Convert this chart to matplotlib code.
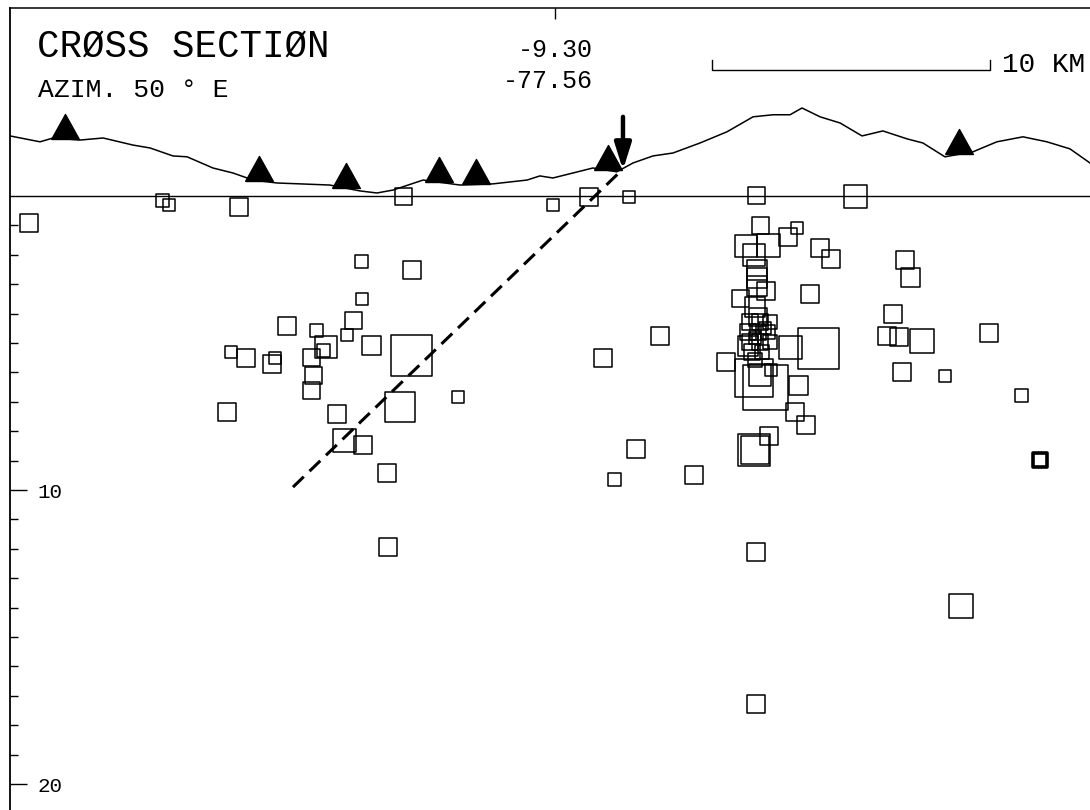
import numpy as np
import matplotlib
matplotlib.use("Agg")
import matplotlib.pyplot as plt
from matplotlib.ticker import FixedLocator

# topography along the section (distance km, elevation km)
topo_x = [0.00, 1.08, 1.55, 2.52, 3.35, 4.42, 5.04, 5.86, 6.37, 7.30, 8.02, 8.74,
          9.60, 10.43, 11.51, 12.59, 13.20, 13.78, 14.86, 16.19, 17.37, 18.60,
          19.06, 19.53, 20.25, 20.97, 21.83, 22.41, 23.13, 23.85, 24.82, 25.79,
          26.73, 27.45, 28.06, 28.49, 29.14, 29.86, 30.65, 31.40, 32.27, 32.84,
          33.63, 34.64, 35.50, 36.44, 37.30, 38.13, 38.85]
topo_elev = [2.04, 1.84, 1.97, 1.90, 1.97, 1.73, 1.63, 1.36, 1.33, 0.95, 0.78, 0.54,
             0.44, 0.41, 0.37, 0.17, 0.10, 0.20, 0.54, 0.37, 0.41, 0.54,
             0.68, 0.61, 0.78, 0.95, 0.82, 1.12, 1.36, 1.46, 1.80, 2.18,
             2.69, 2.76, 2.76, 2.99, 2.69, 2.48, 2.04, 2.21, 1.94, 1.80,
             1.33, 1.50, 1.84, 2.01, 1.84, 1.60, 1.12]

# seismic stations (distance km)
station_x = [1.98, 8.96, 12.09, 15.43, 16.76, 21.51, 34.14]

# hypocenters: distance (km), depth (km), box side (pt)
eq_x = [0.68, 5.50, 5.72, 8.24, 14.17, 19.53, 20.83, 22.27, 26.87, 30.43,
        12.63, 14.46, 12.66, 9.96, 11.01, 12.34, 12.12, 11.37, 11.29, 13.02,
        7.95, 8.49, 9.42, 9.53, 10.83, 10.90, 10.86, 14.46, 14.03, 16.12,
        7.81, 11.76, 12.05, 12.70, 13.56, 13.60, 21.33, 23.38, 22.52, 21.73,
        24.60, 34.21, 36.37, 35.22, 33.63, 32.09, 32.81, 31.98, 31.55, 31.76,
        32.19, 32.41, 28.78, 29.14, 29.53, 28.31, 27.99, 29.10, 28.06, 28.35,
        28.24, 28.63, 26.98, 26.47, 26.76, 27.30, 26.87, 26.87, 26.87, 26.29,
        27.19, 26.80, 25.76, 26.76, 27.16, 26.98, 27.37, 27.30, 26.76, 26.80,
        26.83, 26.83, 26.62, 26.98, 27.34, 26.55, 26.91, 27.27, 26.62, 26.98,
        27.34, 26.69, 27.05, 26.80, 27.16, 26.80, 26.91, 26.55]
eq_z = [0.92, 0.14, 0.31, 0.37, 0.03, 0.31, 0.03, 0.03, -0.03, 0.03,
        2.24, 2.52, 3.50, 4.42, 4.56, 4.22, 4.73, 5.14, 5.24, 5.07,
        5.31, 5.51, 5.71, 5.51, 5.51, 6.09, 6.60, 5.41, 7.18, 6.84,
        7.35, 7.41, 8.33, 8.47, 9.42, 11.94, 5.51, 4.76, 8.61, 9.63,
        9.49, 13.95, 6.80, 4.66, 6.12, 5.99, 4.93, 4.80, 4.76, 4.01,
        2.18, 2.76, 3.33, 1.77, 2.14, 1.09, 1.39, 5.20, 5.14, 6.46,
        7.35, 7.79, 0.99, 1.70, 2.01, 1.67, 2.52, 2.79, 3.06, 3.50,
        3.23, 3.78, 5.65, 6.19, 6.50, 6.09, 5.92, 8.16, 8.64, 8.64,
        12.11, 17.28, 4.29, 4.29, 4.29, 4.63, 4.63, 4.63, 4.97, 4.97,
        4.97, 5.31, 5.31, 5.58, 4.49, 4.83, 4.12, 5.10]
eq_box = [18, 13, 12, 18, 17, 12, 18, 12, 17, 23,
          13, 18, 12, 18, 13, 17, 12, 22, 13, 19,
          12, 18, 18, 12, 17, 17, 17, 41, 30, 12,
          18, 18, 23, 18, 18, 18, 18, 18, 18, 13,
          18, 24, 13, 18, 12, 18, 24, 18, 18, 18,
          18, 19, 18, 18, 18, 12, 18, 41, 23, 19,
          18, 18, 17, 22, 22, 23, 20, 20, 20, 17,
          18, 20, 18, 38, 45, 22, 12, 18, 32, 28,
          18, 18, 16, 16, 14, 16, 16, 14, 16, 16,
          14, 16, 14, 14, 12, 12, 18, 20]

# the one event drawn with a heavy pen
bold_x = [37.05]
bold_z = [8.98]
bold_box = [14]

# inferred fault trace (dashed) and arrow on the surface
fault_x = [10.18, 22.01]
fault_z = [9.90, -0.88]
arrow_x = 22.05
arrow_top, arrow_tip = -2.69, -0.88

# 10 km scale bar
bar_x = [25.25, 35.25]
bar_z = -4.29

W, H = 1090, 810
fig = plt.figure(figsize=(W / 100, H / 100), dpi=100)
ax = fig.add_axes([10 / W, 0.0, 1 - 10 / W, 1 - 8 / H])
ax.set_xlim(0, 38.85)
ax.set_ylim(20.88, -6.39)

for s in ("right", "bottom"):
    ax.spines[s].set_visible(False)
ax.spines["left"].set_linewidth(1.3)
ax.spines["top"].set_linewidth(1.1)

# depth ticks inside the frame
ax.yaxis.set_major_locator(FixedLocator([10, 20]))
ax.yaxis.set_minor_locator(FixedLocator([k for k in range(1, 21)]))
ax.set_yticklabels(["10", "20"])
ax.tick_params(axis="y", which="major", direction="in", length=12, width=1.0,
               pad=-38, labelsize=15, labelfontfamily="Liberation Mono")
ax.tick_params(axis="y", which="minor", direction="in", length=6, width=1.0)
ax.xaxis.set_ticks_position("top")
ax.xaxis.set_major_locator(FixedLocator([19.6]))
ax.tick_params(axis="x", direction="in", length=8, width=1.0, labeltop=False,
               labelbottom=False)

# surface line and topography
ax.axhline(0, color="k", lw=1.0)
ax.plot(topo_x, -np.array(topo_elev), color="k", lw=1.1)

# stations, base sitting on the profile
tri = [(-1, 0), (1, 0), (0, 1.8), (-1, 0)]
st_z = -np.interp(station_x, topo_x, topo_elev)
ax.plot(station_x, st_z, linestyle="none", marker=tri, ms=36, color="k")

# hypocenters
side = np.array(eq_box) * 0.72
ax.scatter(eq_x, eq_z, s=side ** 2, marker="s", facecolors="none",
           edgecolors="k", linewidths=1.1, zorder=3)
ax.scatter(bold_x, bold_z, s=(np.array(bold_box) * 0.72) ** 2, marker="s",
           facecolors="none", edgecolors="k", linewidths=2.6, zorder=3)

ax.plot(fault_x, fault_z, color="k", lw=2.2, dashes=(4.9, 2.6))
ax.annotate("", xy=(arrow_x, arrow_tip), xytext=(arrow_x, arrow_top),
            arrowprops=dict(arrowstyle="-|>,head_length=1.6,head_width=0.5",
                            lw=3.2, color="k", mutation_scale=10,
                            shrinkA=0, shrinkB=0))

# scale bar
ax.plot([bar_x[0], bar_x[0], bar_x[1], bar_x[1]],
        [bar_z - 0.34, bar_z, bar_z, bar_z - 0.34], color="k", lw=1.0)
ax.text(bar_x[1] + 0.45, bar_z + 0.07, "10 KM", fontsize=20,
        family="Liberation Mono", va="baseline")

fig.text(37 / W, 1 - 57 / H, "CRØSS SECTIØN", fontsize=27,
         family="Liberation Mono", va="baseline")
fig.text(38 / W, 1 - 97 / H, "AZIM. 50 ° E", fontsize=19,
         family="Liberation Mono", va="baseline")
fig.text(593 / W, 1 - 57 / H, "-9.30", fontsize=18, ha="right",
         family="Liberation Mono", va="baseline")
fig.text(593 / W, 1 - 88 / H, "-77.56", fontsize=18, ha="right",
         family="Liberation Mono", va="baseline")

fig.savefig("out.png", dpi=100)
